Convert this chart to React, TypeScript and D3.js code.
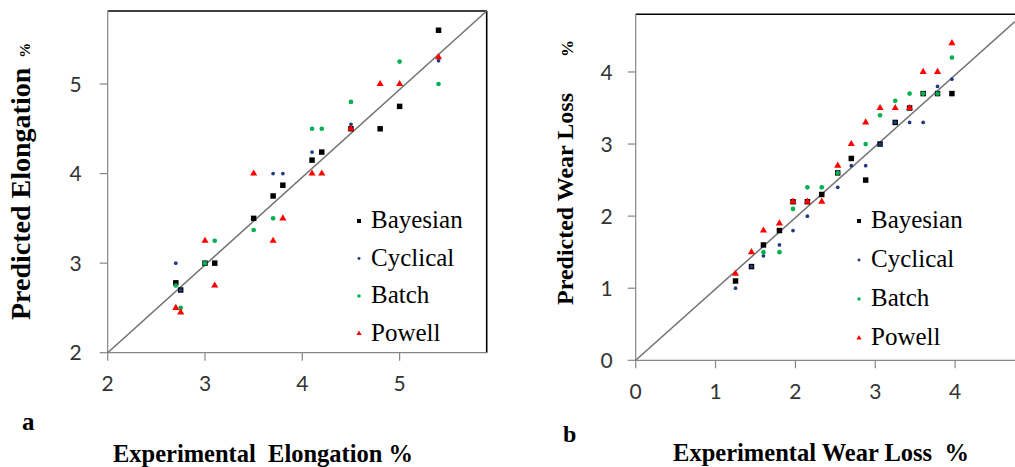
import React from "react";
import * as d3 from "d3";

// ---------- Panel a: Elongation ----------
const elongTicks = [2, 3, 4, 5];
const elongBayesianX = [2.7, 2.75, 3.0, 3.1, 3.5, 3.7, 3.8, 4.1, 4.2, 4.5, 4.8, 5.0, 5.4];
const elongBayesianY = [2.78, 2.7, 3.0, 3.0, 3.5, 3.75, 3.87, 4.15, 4.24, 4.5, 4.5, 4.75, 5.6];
const elongCyclicalX = [2.7, 2.75, 3.7, 3.8, 4.1, 4.5, 5.4];
const elongCyclicalY = [3.0, 2.7, 4.0, 4.0, 4.24, 4.55, 5.26];
const elongBatchX = [2.7, 2.75, 3.0, 3.1, 3.5, 3.7, 4.1, 4.2, 4.5, 5.0, 5.4];
const elongBatchY = [2.75, 2.5, 3.0, 3.25, 3.37, 3.5, 4.5, 4.5, 4.8, 5.25, 5.0];
const elongPowellX = [2.7, 2.75, 3.0, 3.1, 3.5, 3.7, 3.8, 4.1, 4.2, 4.5, 4.8, 5.0, 5.4];
const elongPowellY = [2.5, 2.45, 3.25, 2.75, 4.0, 3.25, 3.5, 4.0, 4.0, 4.5, 5.0, 5.0, 5.3];
const elongDomainX = [2, 5.895];
const elongDomainY = [2, 5.815];

// ---------- Panel b: Wear loss ----------
const wearTicks = [0, 1, 2, 3, 4];
const wearBayesianX = [1.25, 1.45, 1.6, 1.8, 1.97, 2.15, 2.33, 2.53, 2.7, 2.88, 3.06, 3.25, 3.43, 3.6, 3.78, 3.96];
const wearBayesianY = [1.1, 1.3, 1.6, 1.8, 2.2, 2.2, 2.3, 2.6, 2.8, 2.5, 3.0, 3.3, 3.5, 3.7, 3.7, 3.7];
const wearCyclicalX = [1.25, 1.45, 1.6, 1.8, 1.97, 2.15, 2.53, 2.7, 2.88, 3.06, 3.25, 3.43, 3.6, 3.78, 3.96];
const wearCyclicalY = [1.0, 1.3, 1.45, 1.6, 1.8, 2.0, 2.4, 2.7, 2.7, 3.0, 3.3, 3.3, 3.3, 3.8, 3.9];
const wearBatchX = [1.6, 1.8, 1.97, 2.15, 2.33, 2.53, 2.88, 3.06, 3.25, 3.43, 3.6, 3.78, 3.96];
const wearBatchY = [1.5, 1.5, 2.1, 2.4, 2.4, 2.6, 3.0, 3.4, 3.6, 3.7, 3.7, 3.7, 4.2];
const wearPowellX = [1.25, 1.45, 1.6, 1.8, 1.97, 2.15, 2.33, 2.53, 2.7, 2.88, 3.06, 3.25, 3.43, 3.6, 3.78, 3.96];
const wearPowellY = [1.2, 1.5, 1.8, 1.9, 2.2, 2.2, 2.2, 2.7, 3.0, 3.3, 3.5, 3.5, 3.5, 4.0, 4.0, 4.4];
const wearDomainX = [0, 4.75];
const wearDomainY = [0, 4.8];
const wearRefEnd = [4.75, 4.7];

const seriesNames = ["Bayesian", "Cyclical", "Batch", "Powell"];

const COLORS = ["#000000", "#1f3c7c", "#00b050", "#ff0000"];
const SYMS = [d3.symbolSquare, d3.symbolCircle, d3.symbolCircle, d3.symbolTriangle];
const SIZES = [30, 11, 17, 22];
const LEG_SIZES = [16, 7, 10, 12];

const AXIS = "#868686";
const TICK_FONT = "Lato, 'Liberation Sans', sans-serif";
const SERIF = "'Liberation Serif', 'Times New Roman', serif";

function sym(i: number, size: number) {
  return d3.symbol().type(SYMS[i]).size(size)() as string;
}

type PanelProps = {
  xs: number[][];
  ys: number[][];
  domX: number[];
  domY: number[];
  rangeX: number[];
  rangeY: number[];
  ticks: number[];
  refStart: number[];
  refEnd: number[];
  rightBorder: boolean;
  xLabOffset: number;
  yLabGap: number;
  legendX: number;
  legendBase: number;
  legendStep: number;
};

function Panel(p: PanelProps) {
  const x = d3.scaleLinear().domain(p.domX).range(p.rangeX);
  const y = d3.scaleLinear().domain(p.domY).range(p.rangeY);
  const x0 = p.rangeX[0];
  const x1 = p.rangeX[1];
  const y0 = p.rangeY[0];
  const y1 = p.rangeY[1];
  const line = d3.line<number[]>().x((d) => x(d[0])).y((d) => y(d[1]));
  return (
    <g>
      <line x1={x0} x2={x1} y1={y1} y2={y1} stroke="#000" strokeWidth={1.6} />
      {p.rightBorder && <line x1={x1} x2={x1} y1={y1} y2={y0} stroke="#000" strokeWidth={1.6} />}
      <line x1={x0} x2={x0} y1={y1} y2={y0} stroke={AXIS} strokeWidth={1.2} />
      <line x1={x0} x2={x1} y1={y0} y2={y0} stroke={AXIS} strokeWidth={1.2} />
      {p.ticks.map((t) => (
        <g key={"x" + t}>
          <line x1={x(t)} x2={x(t)} y1={y0} y2={y0 + 8} stroke={AXIS} strokeWidth={1.2} />
          <text x={x(t)} y={y0 + p.xLabOffset} textAnchor="middle" fontFamily={TICK_FONT} fontSize={21} fill="#333">
            {t}
          </text>
        </g>
      ))}
      {p.ticks.map((t) => (
        <g key={"y" + t}>
          <line x1={x0 - 8} x2={x0} y1={y(t)} y2={y(t)} stroke={AXIS} strokeWidth={1.2} />
          <text x={x0 - p.yLabGap} y={y(t)} dy="0.36em" textAnchor="end" fontFamily={TICK_FONT} fontSize={21} fill="#333">
            {t}
          </text>
        </g>
      ))}
      <path d={line([p.refStart, p.refEnd]) as string} stroke="#707070" strokeWidth={1.5} fill="none" />
      {p.xs.map((xsS, si) => (
        <g key={"s" + si} fill={COLORS[si]}>
          {xsS.map((xv, i) => (
            <path key={i} d={sym(si, SIZES[si])} transform={`translate(${x(xv)},${y(p.ys[si][i])})`} />
          ))}
        </g>
      ))}
      {seriesNames.map((n, i) => (
        <g key={n}>
          <path
            d={sym(i, LEG_SIZES[i])}
            fill={COLORS[i]}
            transform={`translate(${p.legendX},${p.legendBase + i * p.legendStep - 7})`}
          />
          <text x={p.legendX + 12} y={p.legendBase + i * p.legendStep} fontFamily={SERIF} fontSize={25} fill="#000">
            {n}
          </text>
        </g>
      ))}
    </g>
  );
}

export default function App() {
  return (
    <svg
      width={1015}
      height={467}
      style={{ position: "absolute", left: 0, top: 0, background: "#fff" }}
    >
      <rect width={1015} height={467} fill="#fff" />
      <Panel
        xs={[elongBayesianX, elongCyclicalX, elongBatchX, elongPowellX]}
        ys={[elongBayesianY, elongCyclicalY, elongBatchY, elongPowellY]}
        domX={elongDomainX}
        domY={elongDomainY}
        rangeX={[107.7, 486.7]}
        rangeY={[352.7, 11]}
        ticks={elongTicks}
        refStart={[elongDomainX[0], elongDomainY[0]]}
        refEnd={[elongDomainX[1], elongDomainY[1]]}
        rightBorder={true}
        xLabOffset={38}
        yLabGap={26}
        legendX={359}
        legendBase={228}
        legendStep={37.5}
      />
      <Panel
        xs={[wearBayesianX, wearCyclicalX, wearBatchX, wearPowellX]}
        ys={[wearBayesianY, wearCyclicalY, wearBatchY, wearPowellY]}
        domX={wearDomainX}
        domY={wearDomainY}
        rangeX={[635.7, 1015]}
        rangeY={[360.3, 14.3]}
        ticks={wearTicks}
        refStart={[0, 0]}
        refEnd={wearRefEnd}
        rightBorder={false}
        xLabOffset={39}
        yLabGap={23}
        legendX={859}
        legendBase={228}
        legendStep={39}
      />
      <text
        transform="translate(30,320) rotate(-90)"
        textAnchor="start"
        fontFamily={SERIF}
        fontWeight="bold"
        fontSize={28}
        fill="#000"
      >
        Predicted Elongation
        <tspan fontSize={15} dx={10}>%</tspan>
      </text>
      <text
        transform="translate(573,305) rotate(-90)"
        textAnchor="start"
        fontFamily={SERIF}
        fontWeight="bold"
        fontSize={24}
        fill="#000"
      >
        Predicted Wear Loss
        <tspan fontSize={17} dx={36}>%</tspan>
      </text>
      <text x={263} y={462} textAnchor="middle" fontFamily={SERIF} fontWeight="bold" fontSize={24.5} fill="#000" style={{ whiteSpace: "pre" }}>
        {"Experimental  Elongation %"}
      </text>
      <text x={821} y={461} textAnchor="middle" fontFamily={SERIF} fontWeight="bold" fontSize={24.5} fill="#000" style={{ whiteSpace: "pre" }}>
        {"Experimental Wear Loss  %"}
      </text>
      <text x={22} y={430} fontFamily={SERIF} fontWeight="bold" fontSize={25} fill="#000">
        a
      </text>
      <text x={563} y={442} fontFamily={SERIF} fontWeight="bold" fontSize={24} fill="#000">
        b
      </text>
    </svg>
  );
}
